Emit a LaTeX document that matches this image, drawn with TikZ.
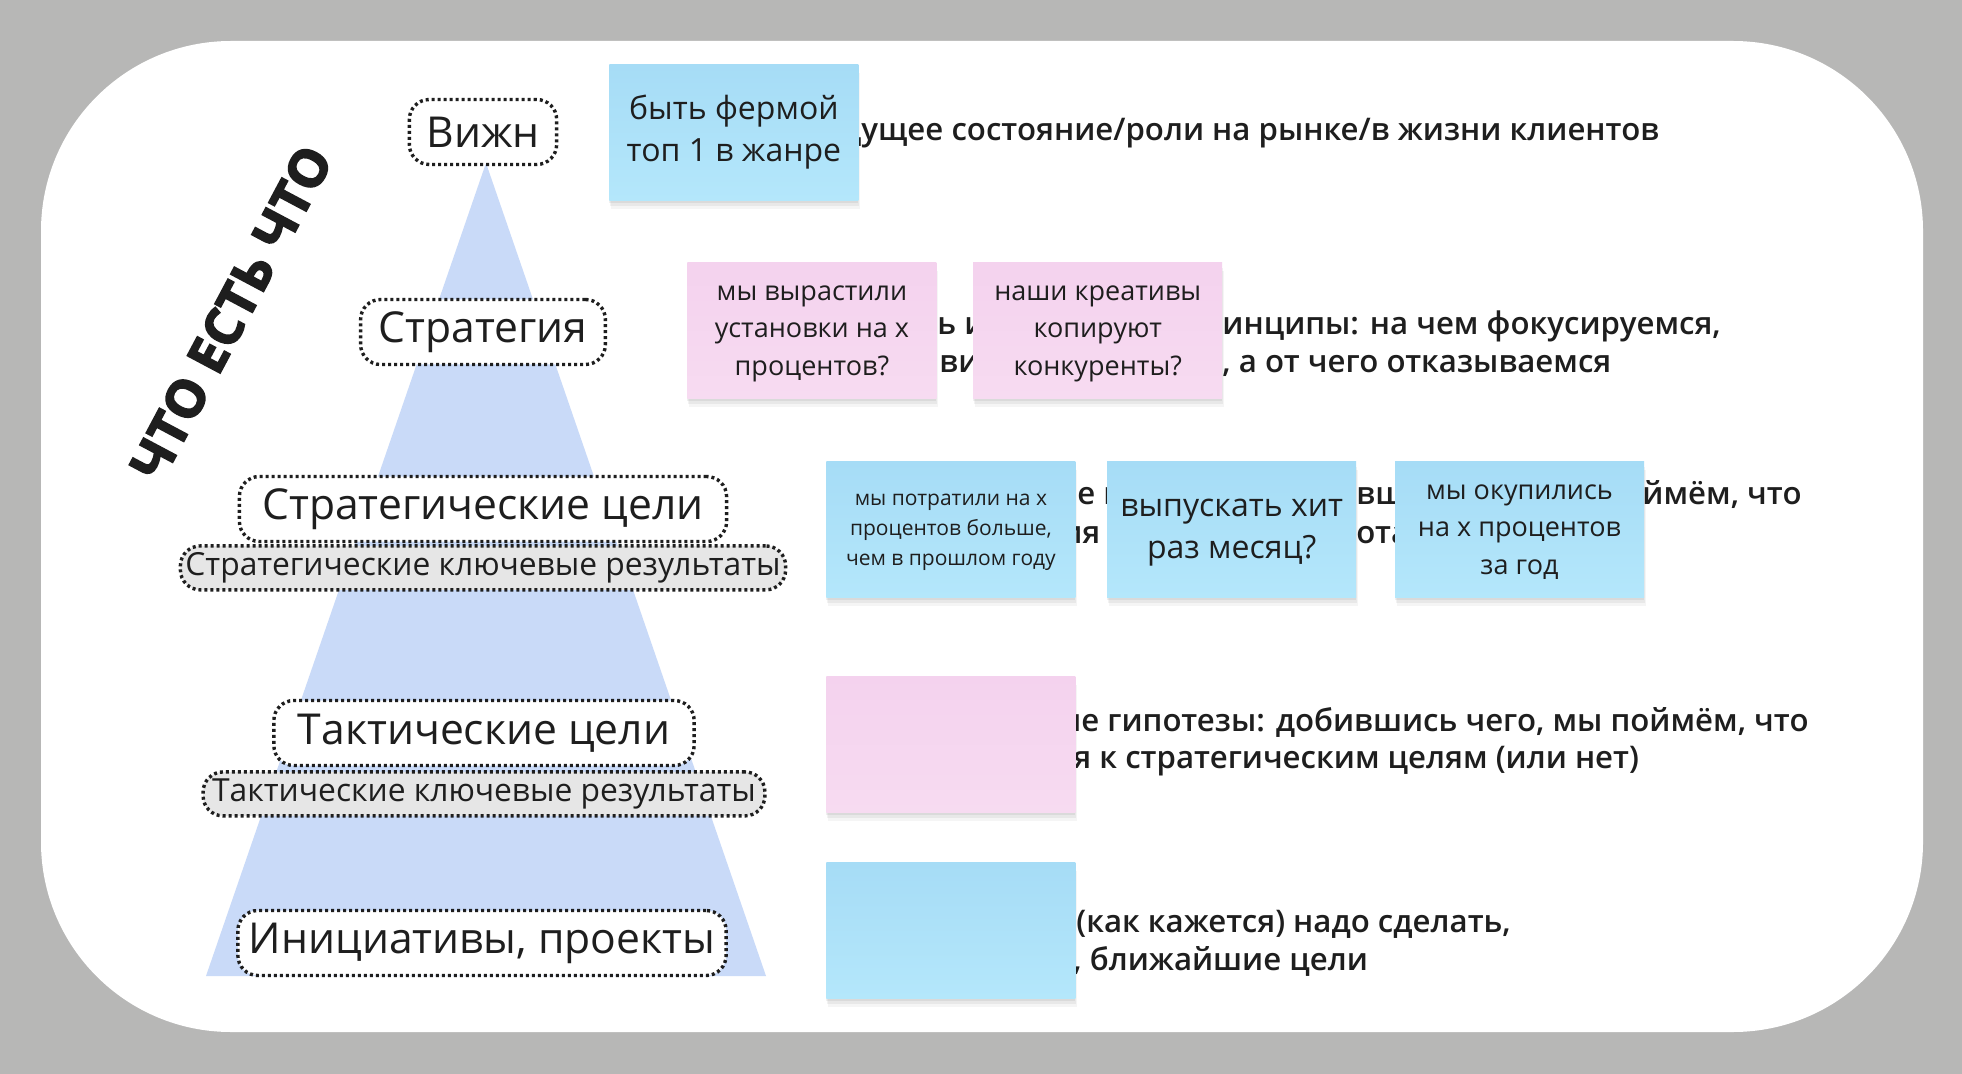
\documentclass[tikz,border=0pt]{standalone}
\usepackage{fontspec}
\setmainfont{Open Sans}
\IfFontExistsTF{Open Sans SemiBold}{\newfontfamily\rowfam{Open Sans SemiBold}}{%
  \IfFontExistsTF{Open Sans Semibold}{\newfontfamily\rowfam{Open Sans Semibold}}{%
    \newfontfamily\rowfam{Open Sans}[FakeBold=1]}}
\IfFontExistsTF{Open Sans ExtraBold}{\newfontfamily\titlefam{Open Sans ExtraBold}[FakeBold=1]}{%
  \newfontfamily\titlefam{Open Sans}[FakeBold=3]}
\usepackage{xcolor}
\usepackage{tikz}
\usetikzlibrary{positioning}
\definecolor{canvasgray}{RGB}{183,183,182}
\definecolor{pyrblue}{RGB}{201,218,248}
\definecolor{krgray}{RGB}{230,230,230}
\definecolor{inkblack}{RGB}{30,30,30}
\definecolor{bluetop}{RGB}{166,220,246}
\definecolor{bluebot}{RGB}{180,231,251}
\definecolor{pinktop}{RGB}{244,210,238}
\definecolor{pinkbot}{RGB}{247,219,241}
\newcommand\stext[1]{\begin{tabular}{@{}c@{}}#1\end{tabular}}
\tikzset{
  lvl/.style    ={draw=inkblack,line width=1.7pt,dash pattern=on 1.5pt off 1.5pt,rounded corners=10pt,
                  fill=white,inner xsep=8pt,minimum height=32.5pt,text=inkblack,
                  font=\fontsize{21.3pt}{25pt}\selectfont},
  kr/.style     ={lvl,fill=krgray,inner xsep=2.5pt,minimum height=22pt,font=\fontsize{15.9pt}{19pt}\selectfont},
  rowtxt/.style ={anchor=base west,inner sep=0pt,text=inkblack,font=\rowfam\fontsize{15.6pt}{19pt}\selectfont},
  sticky/.style ={anchor=north west,minimum width=124.5pt,minimum height=68pt,inner sep=0pt,
                  text=inkblack,
                  preaction={fill=black,opacity=.04,transform canvas={xshift=1pt,yshift=-4.5pt}},
                  preaction={fill=black,opacity=.05,transform canvas={xshift=.5pt,yshift=-3pt}},
                  preaction={fill=black,opacity=.06,transform canvas={yshift=-1.5pt}}},
  sblue/.style  ={sticky,top color=bluetop,bottom color=bluebot},
  spink/.style  ={sticky,top color=pinktop,bottom color=pinkbot},
  titletxt/.style={text=inkblack,font=\titlefam\bfseries\fontsize{26pt}{30pt}\selectfont},
}
\begin{document}
\begin{tikzpicture}[x=0.5pt,y=-0.5pt]
  \useasboundingbox[fill=canvasgray] (0,0) rectangle (1962,1074);
  \fill[white,rounded corners=95pt] (41,41) rectangle (1923,1032);
  % pyramid
  \fill[pyrblue] (486,163) -- (766,976) -- (206,976) -- cycle;
  \node[lvl,inner xsep=8.6pt] (vision) at (483,132) {Вижн};
  \node[lvl,inner xsep=9pt] (strategy) at (483,332) {Стратегия};
  \node[lvl,inner xsep=11.5pt] (sgoals) at (483,509) {Стратегические цели};
  \node[kr,below=0.5pt of sgoals] (skr) {Стратегические ключевые результаты};
  \node[lvl,inner xsep=12pt] (tgoals) at (484,733) {Тактические цели};
  \node[kr,inner xsep=4.5pt,below=1.5pt of tgoals] (tkr) {Тактические ключевые результаты};
  \node[lvl,inner xsep=5.5pt] (initiatives) at (482,943) {Инициативы, проекты};
  \node[titletxt,rotate=62] (title) at (231,313) {ЧТО ЕСТЬ ЧТО};

  % row texts, partly under the stickies
  \node[rowtxt] (visiontxt) at (861,141) {\llap{д}ущее состояние/роли на рынке/в жизни клиентов};
  \node[rowtxt] (strattxta) at (937,335) {ь и};
  \node[rowtxt] (strattxtb) at (939,373) {виж};
  \node[rowtxt] (strattxtc) at (1222,335) {инципы: на чем фокусируемся,};
  \node[rowtxt] (strattxtd) at (1222,373) {, а от чего отказываемся};
  \node[rowtxt] (sgoaltxta) at (1077,504) {е г};
  \node[rowtxt] (sgoaltxtb) at (1082,543) {\llap{и}я};
  \node[rowtxt] (sgoaltxtc) at (1356,504) {вш};
  \node[rowtxt] (sgoaltxtd) at (1356,543) {ота};
  \node[rowtxt] (sgoaltxte) at (1642,504) {ймём, что};
  \node[rowtxt] (tgoaltxta) at (1081,731) {\llap{ы}е гипотезы: добившись чего, мы поймём, что};
  \node[rowtxt] (tgoaltxtb) at (1073,768) {я к стратегическим целям (или нет)};
  \node[rowtxt] (inittxta) at (1076,932) {(как кажется) надо сделать,};
  \node[rowtxt] (inittxtb) at (1073,970) {, ближайшие цели};

  % stickies
  \node[sblue,font=\fontsize{16pt}{21pt}\selectfont] (farm) at (609,64) {\stext{быть фермой\\топ 1 в жанре}};
  \node[spink,font=\fontsize{13.5pt}{18.75pt}\selectfont] (grown) at (687,262) {\stext{мы вырастили\\установки на х\\процентов?}};
  \node[spink,font=\fontsize{13.5pt}{18.75pt}\selectfont,right=18pt of grown] (copied) {\stext{наши креативы\\копируют\\конкуренты?}};
  \node[sblue,font=\fontsize{10.5pt}{15pt}\selectfont] (spent) at (826,461) {\stext{мы потратили на х\\процентов больше,\\чем в прошлом году}};
  \node[sblue,font=\fontsize{16pt}{21pt}\selectfont,right=15.5pt of spent] (hit) {\stext{выпускать хит\\раз месяц?}};
  \node[sblue,font=\fontsize{13.5pt}{18.75pt}\selectfont,right=19pt of hit] (payback) {\stext{мы окупились\\на х процентов\\за год}};
  \node[spink] (tactpink) at (826,676) {};
  \node[sblue] (initblue) at (826,862) {};
\end{tikzpicture}
\end{document}
